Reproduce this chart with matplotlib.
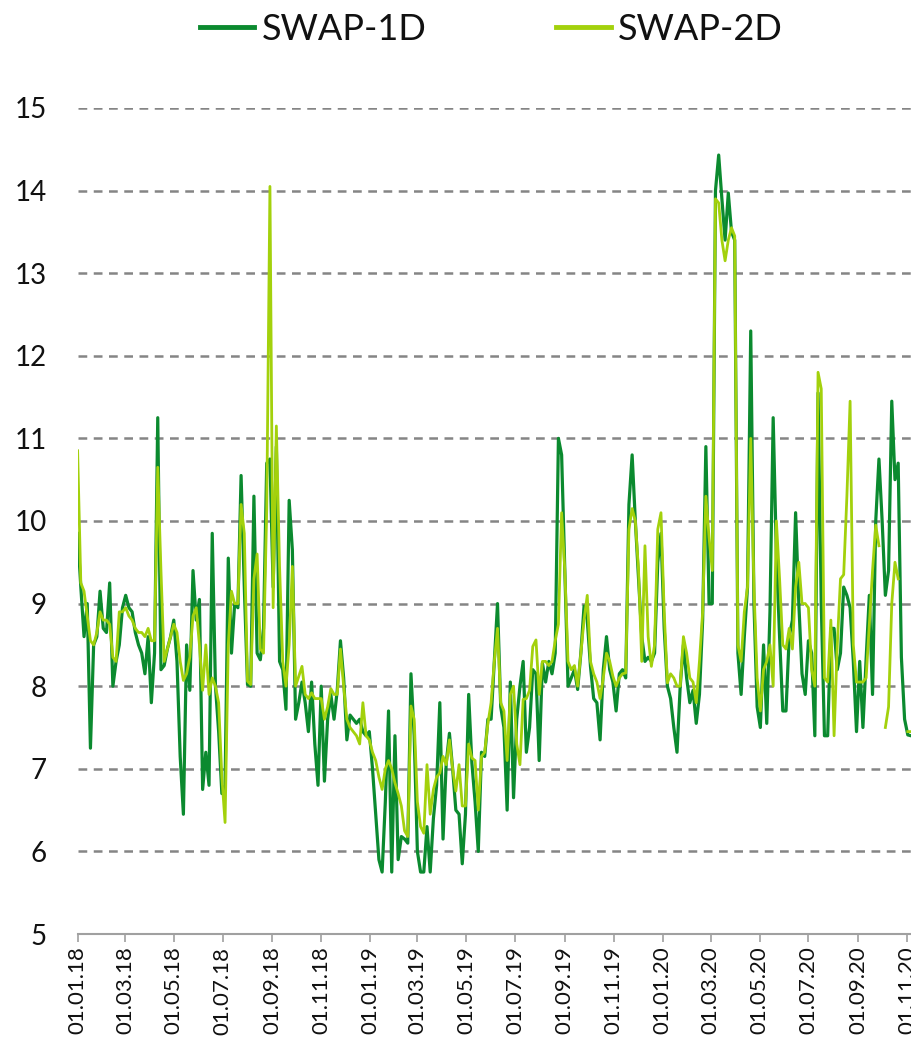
import matplotlib
matplotlib.use("Agg")
import matplotlib.pyplot as plt
import matplotlib.dates as mdates
import numpy as np
import pandas as pd

# SERIES (one value every 4 days from 01.01.2018)
dates = pd.date_range("2018-01-01", periods=261, freq="4D")

swap_1d = [
    9.85, 9.2, 8.6, 9.0, 7.25, 8.5, 8.6, 9.15, 8.7, 8.65, 9.25, 8.0, 8.3, 8.5, 8.95,
    9.1, 8.95, 8.9, 8.65, 8.5, 8.4, 8.15, 8.6, 7.8, 8.4, 11.25, 8.2, 8.25, 8.45, 8.6,
    8.8, 8.3, 7.15, 6.45, 8.5, 7.95, 9.4, 8.8, 9.05, 6.75, 7.2, 6.8, 9.85, 8.0, 7.45,
    6.7, 6.8, 9.55, 8.4, 9.0, 8.95, 10.55, 9.2, 8.02, 8.0, 10.3, 8.4, 8.32, 8.7, 10.7,
    10.75, 9.2, 10.9, 8.3, 8.2, 7.72, 10.25, 9.65, 7.6, 7.8, 8.05, 7.8, 7.45, 8.05, 7.3, 6.8,
    8.0, 6.85, 7.6, 7.9, 7.6, 7.95, 8.55, 8.1, 7.35, 7.65, 7.6, 7.55, 7.6, 7.45, 7.4, 7.45,
    7.0, 6.45, 5.9,
    5.75, 6.6, 7.7, 5.75, 7.4, 5.9, 6.18, 6.15, 6.1, 8.15, 7.4, 6.0, 5.75, 5.75, 6.3, 5.75,
    6.4, 6.8, 7.8, 6.15,
    7.07, 7.43, 7.0, 6.5, 6.45, 5.85, 6.45, 7.9, 7.07, 6.6, 6.0, 7.2, 7.15, 7.6, 7.6, 8.3,
    9.0, 7.75, 7.5, 6.5, 8.05,
    6.65, 7.6, 8.0, 8.3, 7.2, 7.5, 8.2, 8.15, 7.1, 8.28, 8.05, 8.3, 8.15, 8.4, 11.0, 10.8, 9.4,
    8.0, 8.1, 8.2, 7.96, 8.4, 8.97, 8.8, 8.24, 7.85, 7.8, 7.35, 8.2, 8.6, 8.2, 8.05, 7.7,
    8.15, 8.2, 8.1,
    10.2, 10.8, 10.0, 9.3, 8.6, 8.3, 8.35, 8.3, 8.4, 9.5, 9.85, 8.7, 8.0,
    7.85, 7.5, 7.2, 8.0, 8.5, 8.1, 7.8, 7.95, 7.55, 7.9, 8.8, 10.9, 9.0, 9.0,
    14.0, 14.43, 13.9, 13.4, 13.97, 13.5, 13.4, 8.4, 7.9, 8.6, 9.2, 12.3, 9.0, 7.75, 7.5,
    8.5, 7.55, 8.9, 11.25, 9.6, 8.6, 7.7, 7.7, 8.6, 8.8, 10.1, 9.0, 8.15, 7.9, 8.55, 8.4, 7.4,
    11.55, 9.0, 7.4, 7.4, 8.7, 8.7, 8.2, 8.4, 9.2, 9.1, 8.95, 8.3, 7.45, 8.3, 7.5,
    8.33, 9.1, 7.9, 10.0, 10.75, 10.0, 9.1, 9.4, 11.45, 10.5, 10.7, 8.35, 7.6, 7.41, 7.4,
]

swap_2d = [
    10.85, 9.25, 9.15, 8.85, 8.55, 8.5, 8.65, 8.9, 8.8, 8.8, 8.75, 8.35, 8.3, 8.9, 8.9,
    8.95, 8.85, 8.8, 8.7, 8.65, 8.65, 8.6, 8.7, 8.55, 8.55, 10.65, 9.4, 8.3, 8.45, 8.6,
    8.75, 8.65, 8.3, 8.07, 8.15, 8.35, 8.85, 8.95, 8.5, 7.95, 8.5, 7.9, 8.1, 8.0, 7.8,
    6.9, 6.35, 8.5, 9.15, 9.0, 9.0, 10.2, 9.85, 8.06, 8.02, 9.3, 9.6, 8.45, 8.4, 10.15,
    14.05, 8.95, 11.15, 9.45, 8.3, 8.0, 8.5, 9.45, 8.0, 8.12, 8.24, 7.9, 7.85, 7.92, 7.85, 7.85,
    7.85, 7.6, 7.75, 7.97, 7.9, 7.9, 8.45, 8.0, 7.6, 7.5, 7.45, 7.4, 7.3, 7.8, 7.4, 7.35,
    7.2, 7.1, 6.9,
    6.75, 7.0, 7.1, 7.0, 6.83, 6.7, 6.55, 6.25, 6.18, 7.76, 7.6, 6.6, 6.3, 6.22, 7.05, 6.45,
    6.75, 6.9, 6.95, 7.15,
    7.05, 7.35, 7.0, 6.73, 7.05, 6.55, 6.55, 7.3, 7.13, 7.1, 6.5, 7.15, 7.2, 7.55, 7.8, 8.3,
    8.7, 7.8, 7.7, 7.1, 7.9,
    8.0, 7.3, 7.05, 7.84, 7.85, 7.95, 8.48, 8.56, 7.9, 8.3, 8.3, 8.25, 8.3, 8.55, 8.75, 10.1, 9.4,
    8.3, 8.2, 8.25, 8.0, 8.4, 8.8, 9.1, 8.3, 8.15, 8.05, 7.85, 8.1, 8.4, 8.3, 8.12, 8.0,
    8.1, 8.15, 8.16,
    9.9, 10.15, 10.0, 9.4, 8.3, 9.7, 8.6, 8.24, 8.5, 9.9, 10.1, 8.9, 8.04,
    8.15, 8.1, 8.0, 8.0, 8.6, 8.4, 8.1, 8.05, 7.8, 8.3, 8.9, 10.3, 9.8, 9.4,
    13.9, 13.85, 13.4, 13.15, 13.4, 13.55, 13.45, 8.5, 8.3, 8.9, 9.2, 11.0, 9.2, 8.1, 7.7,
    8.2, 8.3, 8.5, 8.0, 10.0, 9.3, 8.5, 8.45, 8.7, 8.45, 9.2, 9.5, 9.0, 9.0, 8.95, 8.2, 8.0,
    11.8, 11.6, 8.1, 8.05, 8.8, 7.4, 8.5, 9.3, 9.35, 10.3, 11.45, 8.5, 8.05, 8.05, 8.05,
    8.1, 8.75, 9.4, 9.95, 9.7, np.nan, 7.5, 7.75, 9.0, 9.5, 9.3, np.nan, np.nan, 7.45, 7.45,
]

series_names = ["SWAP-1D", "SWAP-2D"]
series_colors = ["#0b8a2f", "#a3d10c"]

plt.rcParams["font.family"] = ["Lato", "DejaVu Sans"]

fig = plt.figure(figsize=(9.11, 10.43), dpi=100)
ax = fig.add_axes([0.0852, 0.1045, 0.9148, 0.792])

l1, = ax.plot(dates, swap_1d, color=series_colors[0], lw=2.3, zorder=3)
l2, = ax.plot(dates, swap_2d, color=series_colors[1], lw=2.0, zorder=4)

# axes
ax.set_ylim(5, 15)
ax.set_yticks(range(5, 16))
ax.set_xlim(pd.Timestamp("2018-01-01"), pd.Timestamp("2020-11-06"))
ax.xaxis.set_major_locator(mdates.MonthLocator(bymonth=[1, 3, 5, 7, 9, 11]))
ax.xaxis.set_major_formatter(mdates.DateFormatter("%d.%m.%y"))

for y in range(6, 16):
    ax.axhline(y, color="#858585", lw=1.8, ls=(0, (3.5, 2.6)), zorder=1)

for side in ["left", "right", "top"]:
    ax.spines[side].set_visible(False)
ax.spines["bottom"].set_color("#a0a0a0")
ax.spines["bottom"].set_linewidth(1.5)

ax.tick_params(axis="y", length=0, pad=22, labelsize=20, labelcolor="#111111")
ax.tick_params(axis="x", length=6, width=1.2, color="#a0a0a0", pad=3,
               labelsize=16, labelcolor="#111111", labelrotation=90)

# LEGEND
leg = fig.legend([l1, l2], series_names, loc="center", bbox_to_anchor=(0.5395, 0.972),
                 ncol=2, frameon=False, fontsize=26, handlelength=1.5,
                 handletextpad=0.2, columnspacing=3.6)
for t in leg.get_texts():
    t.set_color("#111111")
for h in leg.legend_handles:
    h.set_linewidth(3.5)

fig.savefig("out.png", dpi=100)
